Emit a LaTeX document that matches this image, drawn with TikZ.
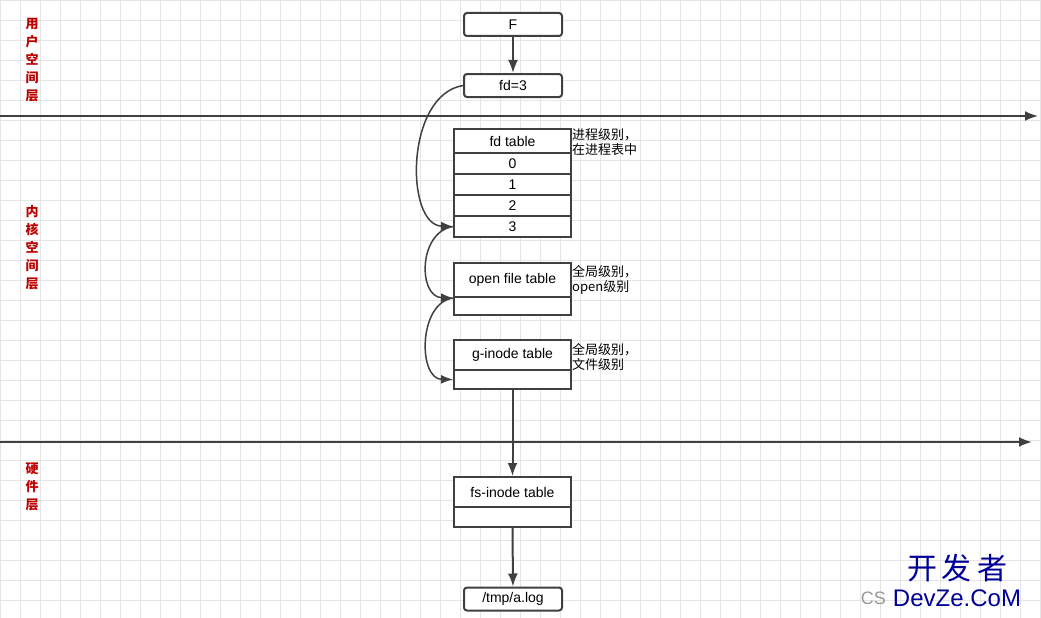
\documentclass[tikz,border=0pt]{standalone}
\usepackage{fontspec}
\setmainfont{Liberation Sans}
\newfontfamily\cjk{Noto Sans CJK SC}
\usetikzlibrary{arrows.meta}
\begin{document}
\begin{tikzpicture}[x=1pt,y=-1pt,
  box/.style={draw=black!75,line width=2pt,fill=white,minimum width=117pt,inner sep=0pt,font=\fontsize{14}{15}\selectfont},
  rbox/.style={box,rounded corners=3pt,minimum width=98pt,minimum height=23pt},
  arr/.style={-{Latex[length=13pt,width=10pt]},line width=2pt,draw=black!75},
  carr/.style={-{Latex[length=12pt,width=9pt]},line width=1.5pt,draw=black!75},
  note/.style={font=\cjk\fontsize{13}{15}\selectfont,anchor=north west,inner sep=0pt,align=left},
  layer/.style={font=\cjk\bfseries\fontsize{13}{18}\selectfont,text=red!75!black,align=center,inner sep=0pt}]
\useasboundingbox (0,0) rectangle (1041,618);
\fill[white] (0,0) rectangle (1041,618);
\draw[black!10,line width=0.8pt] (0,0) grid[step=20pt] (1041,618);
% layer lines
\coordinate (l1s) at (0,116); \coordinate (l1e) at (1038,116);
\coordinate (l2s) at (0,442); \coordinate (l2e) at (1032,442);
\draw[arr] (l1s) -- (l1e);
\draw[arr] (l2s) -- (l2e);
\node[layer] (u) at (32,60) {用\\户\\空\\间\\层};
\node[layer] (k) at (32,248) {内\\核\\空\\间\\层};
\node[layer] (h) at (32,487) {硬\\件\\层};
% nodes
\node[rbox] (F) at (513,24.5) {F};
\node[rbox] (fd) at (513,85.5) {fd=3};
\node[box,minimum height=24pt] (t) at (512.5,141) {fd table};
\node[box,minimum height=21pt] (r0) at (512.5,163.5) {0};
\node[box,minimum height=21pt] (r1) at (512.5,184.5) {1};
\node[box,minimum height=21pt] (r2) at (512.5,205.5) {2};
\node[box,minimum height=21pt] (r3) at (512.5,226.5) {3};
\node[box,minimum height=34pt] (o) at (512.5,280) {open file table};
\node[box,minimum height=18pt] (o2) at (512.5,306) {};
\node[box,minimum height=30pt] (g) at (512.5,355) {g-inode table};
\node[box,minimum height=19pt] (g2) at (512.5,379.5) {};
\node[box,minimum height=30pt] (f) at (512.5,492) {fs-inode table};
\node[box,minimum height=20pt] (f2) at (512.5,517) {};
\node[rbox] (a) at (513,599) {/tmp/a.log};
% notes
\node[note] (n1) at (572,128) {进程级别，\\在进程表中};
\node[note] (n2) at (572,265) {全局级别，\\open级别};
\node[note] (n3) at (572,343) {全局级别，\\文件级别};
% connectors
\draw[arr] (F) -- (fd);
\draw[arr] (g2) -- (f);
\draw[arr] (f2) -- (a);
\draw[carr] (fd.west) .. controls (405,95) and (405,225) .. (r3.west);
\draw[carr] (r3.west) .. controls (418,232) and (418,297) .. (o.south west);
\draw[carr] (o.south west) .. controls (418,303) and (418,379) .. (g2.west);
% watermark
\node[font=\cjk\fontsize{30}{30}\selectfont,text=blue!60!black] (w1) at (957,568) {开\,发\,者};
\node[font=\fontsize{24}{24}\selectfont,text=blue!60!black] (w2) at (957,598) {DevZe.CoM};
\node[font=\fontsize{18}{18}\selectfont,text=black!40,anchor=east] (w3) at (w2.west) {CS};
\end{tikzpicture}
\end{document}
